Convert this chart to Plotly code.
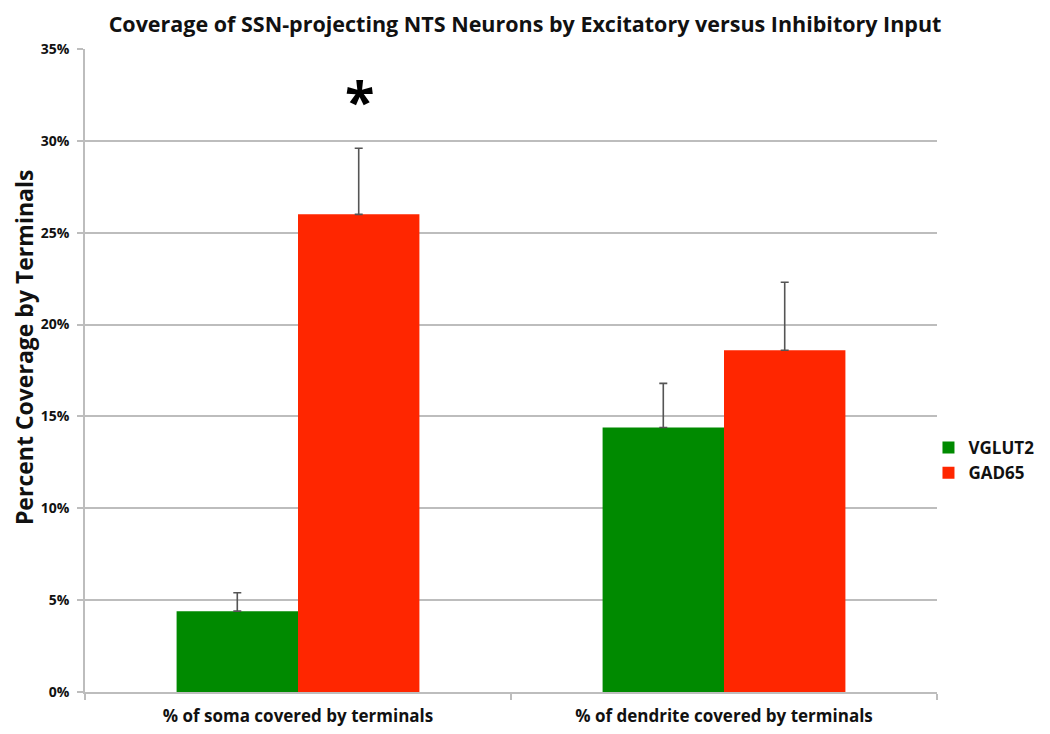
import plotly.graph_objects as go

categories = ["% of soma covered by terminals", "% of dendrite covered by terminals"]
vglut2 = [4.4, 14.4]
vglut2_err = [1.0, 2.4]
gad65 = [26.0, 18.6]
gad65_err = [3.6, 3.7]
y_ticks = [0, 5, 10, 15, 20, 25, 30, 35]

FONT = "'Open Sans', Lato, sans-serif"

fig = go.Figure()
fig.add_trace(go.Bar(
    name="<b>VGLUT2</b>", x=categories, y=vglut2, marker_color="#008a00", marker_line_width=0,
    error_y=dict(type="data", array=vglut2_err, arrayminus=[0, 0], symmetric=False,
                 color="#555555", thickness=1.6, width=4)))
fig.add_trace(go.Bar(
    name="<b>GAD65</b>", x=categories, y=gad65, marker_color="#ff2600", marker_line_width=0,
    error_y=dict(type="data", array=gad65_err, arrayminus=[0, 0], symmetric=False,
                 color="#555555", thickness=1.6, width=4)))

fig.add_annotation(x=categories[0], y=gad65[0] + gad65_err[0], xref="x", yref="y",
                   text="<b>*</b>", showarrow=False, xshift=61, yshift=48,
                   font=dict(family=FONT, size=54, color="black"))

# y-axis title placed as a rotated annotation (Excel puts it slightly above centre)
fig.add_annotation(x=-0.0715, y=0.535, xref="paper", yref="paper",
                   text="<b>Percent Coverage by Terminals</b>", textangle=-90,
                   showarrow=False, xanchor="center", yanchor="middle",
                   font=dict(family=FONT, size=23, color="#111"))

# page body adds an 8px offset; plot area targeted at x 85..937, y 49..692 in the window
fig.update_layout(
    width=1042, height=726,
    paper_bgcolor="white", plot_bgcolor="white",
    margin=dict(l=77, r=113, t=41, b=42, autoexpand=False),
    barmode="group", bargap=0.43, bargroupgap=0,
    title=dict(text="<b>Coverage of SSN-projecting NTS Neurons by Excitatory versus Inhibitory Input</b>",
               x=0.4962, xanchor="center", y=0.988, yanchor="top",
               font=dict(family=FONT, size=21.5, color="#111")),
    legend=dict(x=0.99, xanchor="left", y=0.36, yanchor="middle",
                font=dict(family=FONT, size=17, color="#111"),
                itemwidth=30, tracegroupgap=3, bgcolor="rgba(0,0,0,0)"),
    font=dict(family=FONT, color="#111"),
    showlegend=True,
)
fig.update_yaxes(range=[0, 35], tickvals=y_ticks, ticktext=[f"<b>{v}%</b>" for v in y_ticks],
                 showgrid=True, gridcolor="#bdbdbd", gridwidth=1.5,
                 showline=True, linecolor="#bdbdbd", linewidth=1.5,
                 ticks="outside", ticklen=6, tickcolor="#bdbdbd", tickwidth=1.5,
                 tickfont=dict(family=FONT, size=14, color="#111"),
                 ticklabelstandoff=5,
                 automargin=False, zeroline=False)
fig.update_xaxes(showline=True, linecolor="#bdbdbd", linewidth=1.5,
                 ticks="outside", tickson="boundaries", ticklen=6, tickcolor="#bdbdbd", tickwidth=1.5,
                 tickfont=dict(family=FONT, size=17, color="#111"),
                 ticklabelstandoff=8,
                 automargin=False,
                 ticktext=[f"<b>{c}</b>" for c in categories], tickvals=categories)

fig.write_html("out.html")
